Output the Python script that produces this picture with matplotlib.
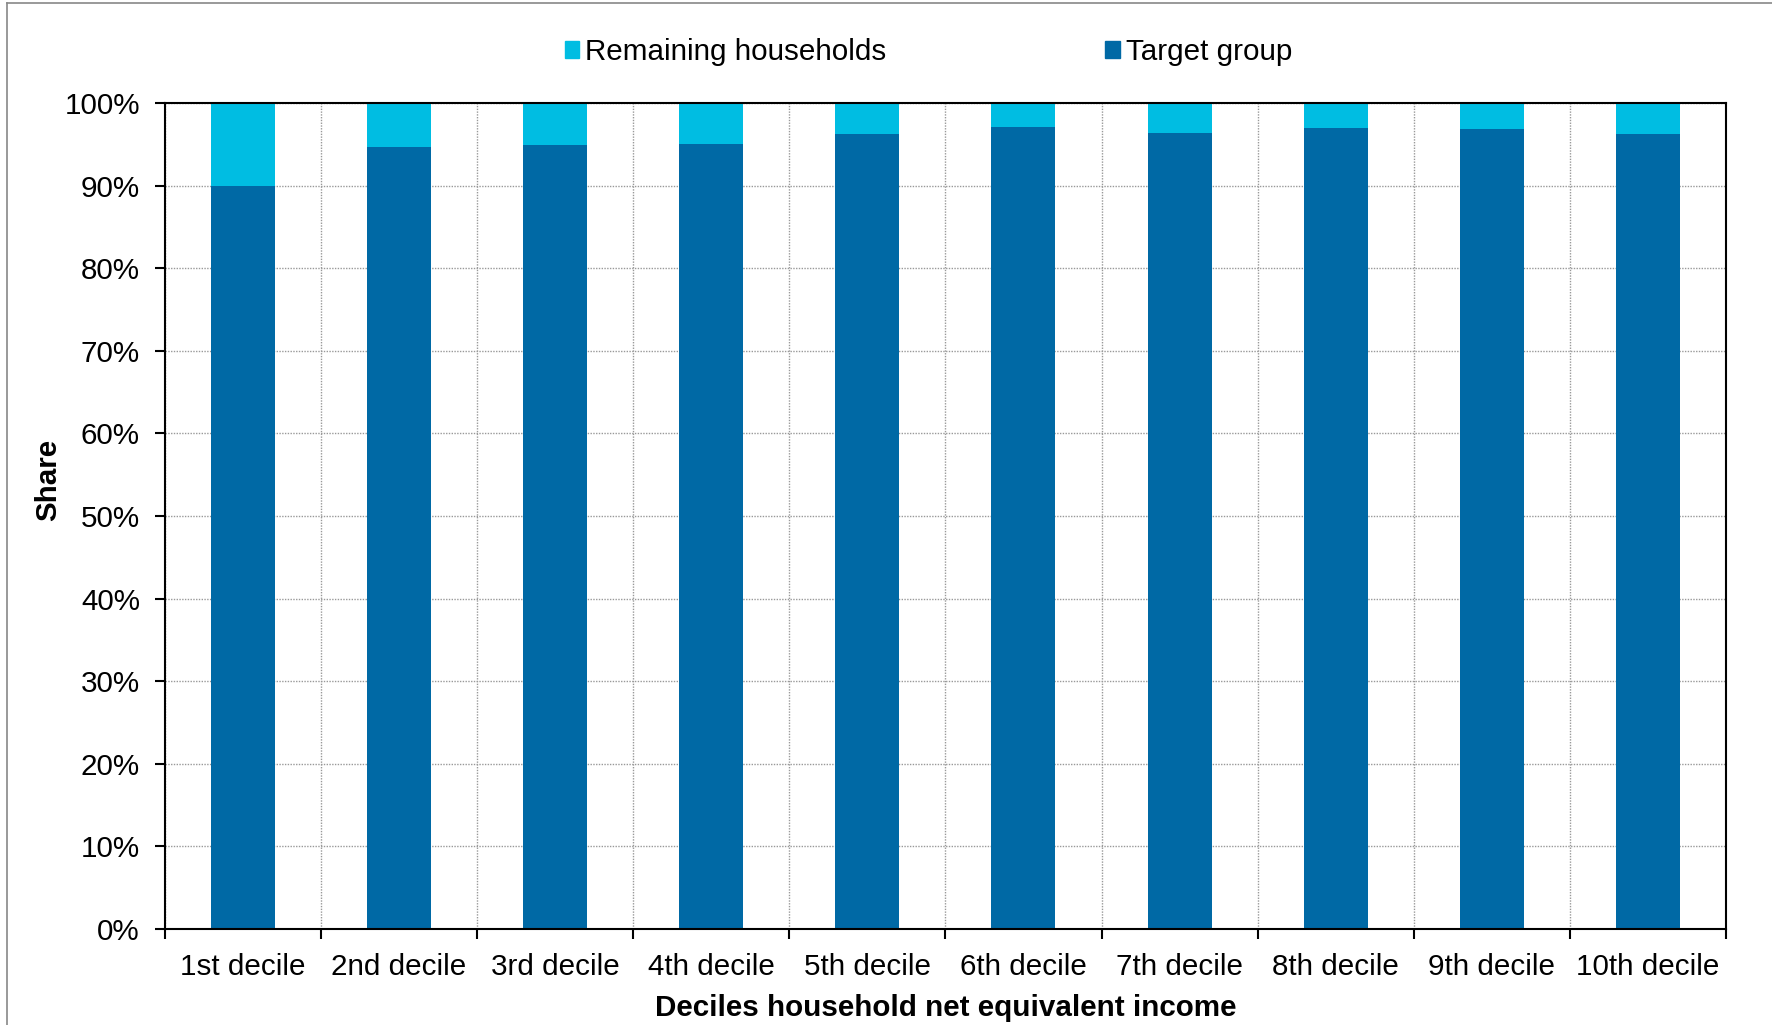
import matplotlib.pyplot as plt
import numpy as np
from matplotlib.lines import Line2D
from matplotlib.patches import Patch
from matplotlib.ticker import FixedLocator, PercentFormatter

plt.rcParams["font.family"] = ["Liberation Sans", "DejaVu Sans"]

DECILES = ["1st decile", "2nd decile", "3rd decile", "4th decile", "5th decile",
           "6th decile", "7th decile", "8th decile", "9th decile", "10th decile"]
# share of households (%) per income decile
TARGET_GROUP = [90.0, 94.65, 94.9, 95.05, 96.3, 97.05, 96.4, 96.95, 96.8, 96.2]
REMAINING = [100 - v for v in TARGET_GROUP]

C_TARGET = "#0069A5"
C_REMAIN = "#00BDE2"
FS = 21.3

fig = plt.figure(figsize=(17.72, 10.25), dpi=100)
ax = fig.add_axes([0.0931, 0.0937, 0.8809, 0.8058])

x = np.arange(len(DECILES))
ax.bar(x, TARGET_GROUP, width=0.41, color=C_TARGET, zorder=2)
ax.bar(x, REMAINING, width=0.41, bottom=TARGET_GROUP, color=C_REMAIN, zorder=2)

ax.set_xlim(-0.5, len(DECILES) - 0.5)
ax.set_ylim(0, 100)
ax.set_yticks(np.arange(0, 101, 10))
ax.yaxis.set_major_formatter(PercentFormatter(decimals=0))
ax.set_xticks(x)
ax.set_xticklabels(DECILES)
ax.xaxis.set_minor_locator(FixedLocator(np.arange(-0.5, len(DECILES), 1)))

ax.tick_params(axis="x", which="major", length=0, pad=17, labelsize=FS)
ax.tick_params(axis="x", which="minor", length=7, width=1.5, direction="out")
ax.tick_params(axis="y", length=7, width=1.5, pad=11, labelsize=FS)

ax.set_axisbelow(True)
ax.grid(axis="y", which="major", linestyle=(0, (1, 1)), color="#999999", linewidth=1)
ax.grid(axis="x", which="minor", linestyle=(0, (1, 1)), color="#999999", linewidth=1)
for s in ax.spines.values():
    s.set_linewidth(1.5)
    s.set_color("black")

ax.set_xlabel("Deciles household net equivalent income", fontsize=FS,
              fontweight="bold", labelpad=10)
ax.set_ylabel("Share", fontsize=FS, fontweight="bold")
ax.yaxis.set_label_coords(-0.066, 0.544)

handles = [Patch(color=C_REMAIN), Patch(color=C_TARGET)]
fig.legend(handles, ["Remaining households", "Target group"], loc="center",
           bbox_to_anchor=(0.524, 0.949), ncol=2, frameon=False, fontsize=FS,
           handlelength=0.5, handleheight=0.5, handletextpad=0.2,
           columnspacing=7.4)

# chart area border
fig.add_artist(Line2D([0.004, 0.004], [0, 0.997], transform=fig.transFigure,
                      color="#888888", linewidth=1.2))
fig.add_artist(Line2D([0.004, 1], [0.997, 0.997], transform=fig.transFigure,
                      color="#888888", linewidth=1.2))

fig.savefig("out.png", dpi=100)
